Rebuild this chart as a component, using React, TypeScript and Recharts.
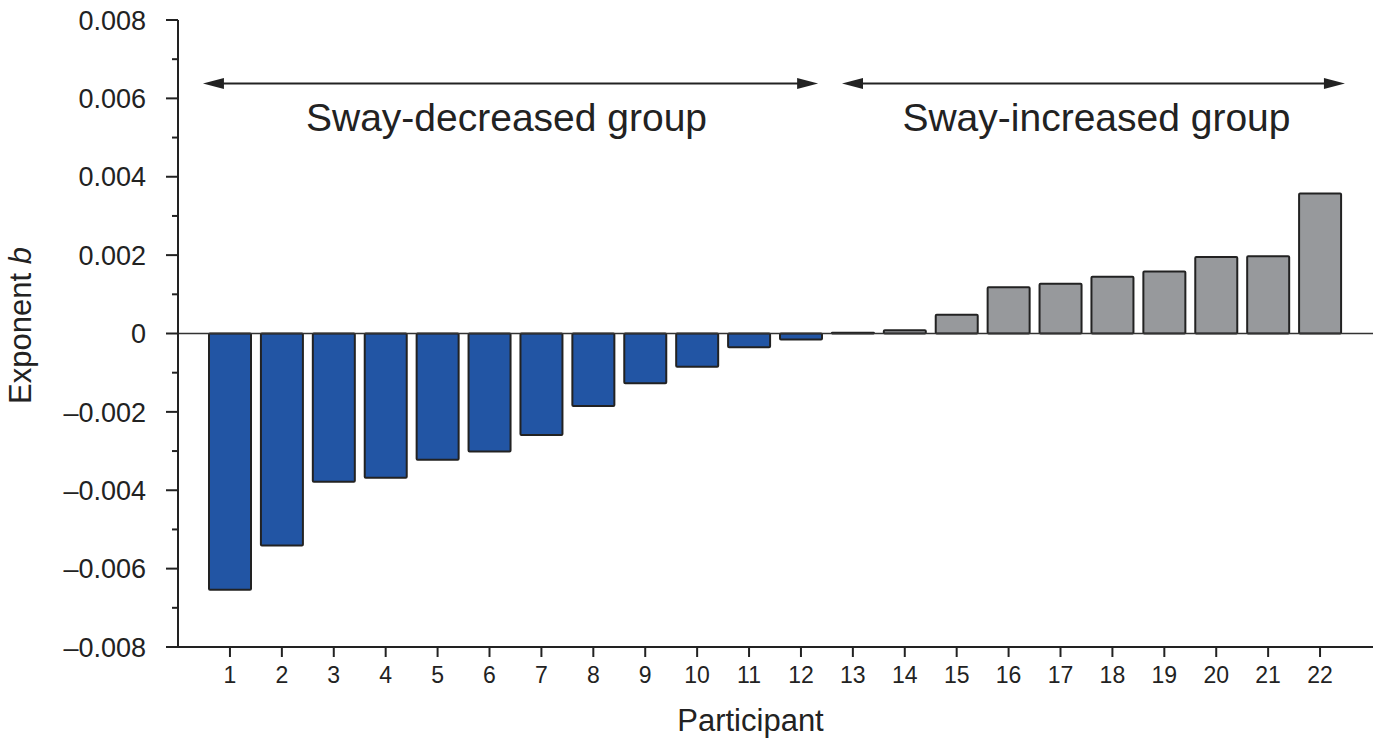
import React from 'react';
import { BarChart, Bar, XAxis, YAxis, Cell, ReferenceLine } from 'recharts';

const participants = ['1', '2', '3', '4', '5', '6', '7', '8', '9', '10', '11', '12', '13', '14', '15', '16', '17', '18', '19', '20', '21', '22'];
const participantPos = [1, 2, 3, 4, 5, 6, 7, 8, 9, 10, 11, 12, 13, 14, 15, 16, 17, 18, 19, 20, 21, 22];
const exponentB = [
  -0.00654, -0.00541, -0.00378, -0.00368, -0.00322, -0.00301, -0.00259, -0.00185, -0.00127, -0.00085, -0.00035, -0.00015,
  0.00002, 0.00008, 0.00048, 0.00118, 0.00127, 0.00145, 0.00158, 0.00195, 0.00197, 0.00357,
];
const yTicks = [-0.008, -0.007, -0.006, -0.005, -0.004, -0.003, -0.002, -0.001, 0, 0.001, 0.002, 0.003, 0.004, 0.005, 0.006, 0.007, 0.008];

const groupNames = ['Sway-decreased group', 'Sway-increased group'];
const groupStart = [0.48, 12.78];
const groupEnd = [12.32, 22.46];
const groupTitleShift = [-4, 3];
const arrowLevel = 0.00638;

const BLUE = '#2255a4';
const GRAY = '#97999c';
const INK = '#222222';
const FONT = '"Liberation Sans", Arial, Helvetica, sans-serif';

const data = participants.map((p, i) => ({ participant: p, pos: participantPos[i], b: exponentB[i] }));

const fmt = (v: number) => {
  const k = Math.round(v * 1000);
  if (k === 0) return '0';
  return (k < 0 ? '\u2013' : '') + (Math.abs(k) / 1000).toFixed(3);
};

const YTick = (props: any) => {
  const { x, y, payload } = props;
  const k = Math.round(payload.value * 1000);
  const major = k % 2 === 0;
  return (
    <g>
      <line x1={x - (major ? 12 : 6)} x2={x} y1={y} y2={y} stroke={INK} strokeWidth={2} />
      {major && (
        <text x={x - 32} y={y} dy="0.36em" textAnchor="end" fontSize={27} fill={INK} fontFamily={FONT}>
          {fmt(payload.value)}
        </text>
      )}
    </g>
  );
};

const YLabel = (props: any) => {
  const vb = props.viewBox || { x: 0, y: 20, width: 178, height: 627 };
  const cx = vb.x + 31;
  const cy = vb.y + vb.height / 2 - 8;
  return (
    <text x={cx} y={cy} textAnchor="middle" fontSize={31} fill={INK} fontFamily={FONT} transform={`rotate(-90, ${cx}, ${cy})`}>
      Exponent <tspan fontStyle="italic">b</tspan>
    </text>
  );
};

const GroupArrow = (props: any) => {
  const { x1, y1, x2, y2, title, shift } = props;
  const hl = 21;
  const hw = 5.5;
  return (
    <g>
      <line x1={x1 + hl - 2} y1={y1} x2={x2 - hl + 2} y2={y2} stroke={INK} strokeWidth={2} />
      <polygon points={`${x1},${y1} ${x1 + hl},${y1 - hw} ${x1 + hl},${y1 + hw}`} fill={INK} />
      <polygon points={`${x2},${y2} ${x2 - hl},${y2 - hw} ${x2 - hl},${y2 + hw}`} fill={INK} />
      <text x={(x1 + x2) / 2 + shift} y={y1 + 48} textAnchor="middle" fontSize={39} fill={INK} fontFamily={FONT}>
        {title}
      </text>
    </g>
  );
};

export default function App() {
  return (
    <div style={{ position: 'absolute', left: 0, top: 0, fontFamily: FONT, background: '#fff' }}>
      <BarChart width={1382} height={739} data={data} margin={{ top: 20, right: 9, bottom: 0, left: 0 }} barSize={42}>
        <XAxis
          dataKey="participant"
          type="category"
          interval={0}
          padding={{ left: 26, right: 27 }}
          tickSize={10}
          tickMargin={10}
          height={92}
          axisLine={{ stroke: INK, strokeWidth: 2 }}
          tickLine={{ stroke: INK, strokeWidth: 2 }}
          tick={{ fontSize: 23, fill: INK, fontFamily: FONT }}
          label={{ value: 'Participant', position: 'insideBottom', offset: 8, dx: -25, fontSize: 31, fill: INK, fontFamily: FONT }}
        />
        <XAxis xAxisId="n" dataKey="pos" type="number" scale="linear" domain={[0, 23]} hide allowDataOverflow />
        <YAxis
          type="number"
          domain={[-0.008, 0.008]}
          ticks={yTicks}
          interval={0}
          width={178}
          tickSize={0}
          tickMargin={0}
          allowDataOverflow
          axisLine={{ stroke: INK, strokeWidth: 2 }}
          tickLine={false}
          tick={<YTick />}
          label={(p: any) => <YLabel {...p} />}
        />
        <ReferenceLine xAxisId="n" y={0} stroke="#333" strokeWidth={1.5} />
        <Bar dataKey="b" isAnimationActive={false} stroke={INK} strokeWidth={2} radius={1}>
          {data.map((d, i) => (
            <Cell key={i} fill={d.b < 0 ? BLUE : GRAY} />
          ))}
        </Bar>
        {groupNames.map((g, i) => (
          <ReferenceLine
            key={g}
            xAxisId="n"
            ifOverflow="visible"
            segment={[
              { x: groupStart[i], y: arrowLevel },
              { x: groupEnd[i], y: arrowLevel },
            ]}
            shape={(p: any) => <GroupArrow {...p} title={g} shift={groupTitleShift[i]} />}
          />
        ))}
      </BarChart>
    </div>
  );
}
